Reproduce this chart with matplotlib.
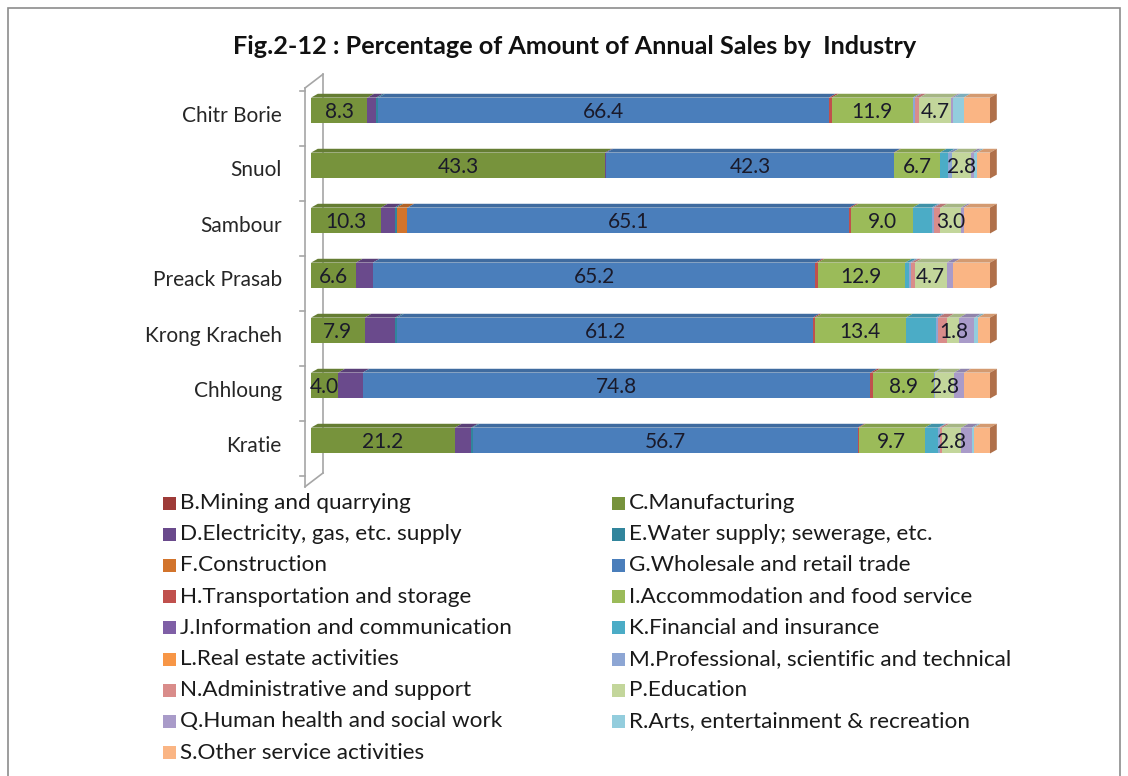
import matplotlib
matplotlib.use("Agg")
import matplotlib.pyplot as plt
from matplotlib.patches import Polygon, Rectangle
from matplotlib.colors import to_rgb
import numpy as np

plt.rcParams['font.family'] = ['Lato', 'DejaVu Sans']

regions = ["Chitr Borie", "Snuol", "Sambour", "Preack Prasab", "Krong Kracheh", "Chhloung", "Kratie"]

series_names = [
    "B.Mining and quarrying", "C.Manufacturing",
    "D.Electricity, gas, etc. supply", "E.Water supply; sewerage, etc.",
    "F.Construction", "G.Wholesale and retail trade",
    "H.Transportation and storage", "I.Accommodation and food service",
    "J.Information and communication", "K.Financial and insurance",
    "L.Real estate activities", "M.Professional, scientific and technical",
    "N.Administrative and support", "P.Education",
    "Q.Human health and social work", "R.Arts, entertainment & recreation",
    "S.Other service activities",
]

B = [0.0, 0.0, 0.0, 0.0, 0.0, 0.0, 0.0]
C = [8.3, 43.3, 10.3, 6.6, 7.9, 4.0, 21.2]
D = [1.3, 0.2, 2.0, 2.5, 4.5, 3.6, 2.4]
E = [0.3, 0.0, 0.3, 0.0, 0.3, 0.0, 0.2]
F = [0.0, 0.0, 1.6, 0.0, 0.0, 0.0, 0.0]
G = [66.4, 42.3, 65.1, 65.2, 61.2, 74.8, 56.7]
H = [0.4, 0.1, 0.3, 0.3, 0.3, 0.4, 0.2]
I = [11.9, 6.7, 9.0, 12.9, 13.4, 8.9, 9.7]
J = [0.0, 0.0, 0.0, 0.0, 0.0, 0.0, 0.0]
K = [0.0, 1.2, 2.8, 0.6, 4.4, 0.0, 2.0]
L = [0.0, 0.0, 0.0, 0.0, 0.0, 0.0, 0.0]
M = [0.3, 0.6, 0.3, 0.3, 0.3, 0.2, 0.2]
N = [0.7, 0.0, 1.0, 0.5, 1.4, 0.0, 0.4]
P = [4.7, 2.8, 3.0, 4.7, 1.8, 2.8, 2.8]
Q = [0.3, 0.5, 0.4, 1.0, 2.2, 1.5, 1.5]
R = [1.5, 0.4, 0.0, 0.0, 0.5, 0.0, 0.3]
S = [3.9, 1.9, 3.9, 5.4, 1.8, 3.8, 2.4]

series_values = [B, C, D, E, F, G, H, I, J, K, L, M, N, P, Q, R, S]
series_colors = [
    "#9E3B38", "#77933C", "#6A4A8C", "#31859C", "#D2742C", "#4A7EBB",
    "#C0504D", "#9BBB59", "#7F5FA6", "#4BACC6", "#F79646", "#8DA6D4",
    "#D98C8A", "#C3D69B", "#A99BC9", "#93CDDD", "#FAB584",
]
labeled = {"C.Manufacturing", "G.Wholesale and retail trade",
           "I.Accommodation and food service", "P.Education"}

fig = plt.figure(figsize=(11.28, 7.76), dpi=100)
W, Hh = 1128, 776

# outer border
fig.patches.append(Rectangle((8 / W, -0.05), (1120 - 8) / W, (776 - 8) / Hh + 0.05,
                             transform=fig.transFigure, fill=False,
                             edgecolor="#8c8c8c", linewidth=1.2))

fig.text(575 / W, 1 - 47 / Hh, "Fig.2-12 : Percentage of Amount of Annual Sales by  Industry",
         ha="center", va="center", fontsize=18.2, fontweight="bold", color="#111111")

ax_left, ax_right = 311 / W, 990 / W
ax_top, ax_bot = 1 - 88 / Hh, 1 - 473 / Hh
ax = fig.add_axes([ax_left, ax_bot, ax_right - ax_left, ax_top - ax_bot])
ax.set_xlim(0, 100)
ax.set_ylim(len(regions) - 0.5, -0.5)
ax.axis("off")

bar_h = 0.47
shift = -0.09
dx, dy = 1.0, 0.07


def darker(c, f=0.8):
    r, g, b = to_rgb(c)
    return (r * f, g * f, b * f)


ypos = np.arange(len(regions)) + shift
left = np.zeros(len(regions))
for name, vals, col in zip(series_names, series_values, series_colors):
    vals = np.array(vals)
    ax.barh(ypos, vals, left=left, height=bar_h, color=col, edgecolor="none", zorder=2)
    for i, (l0, v) in enumerate(zip(left, vals)):
        if v <= 0:
            continue
        top = ypos[i] - bar_h / 2
        poly = Polygon([(l0, top), (l0 + v, top), (l0 + v + dx, top - dy), (l0 + dx, top - dy)],
                       closed=True, facecolor=darker(col, 0.85), edgecolor="none",
                       zorder=1, clip_on=False)
        ax.add_patch(poly)
        if name in labeled:
            ax.text(l0 + v / 2, ypos[i] + 0.03, f"{v:.1f}", ha="center", va="center",
                    fontsize=15, color="#1a1a2a", zorder=5)
    left = left + vals

# right side faces
for i, tot in enumerate(left):
    top = ypos[i] - bar_h / 2
    bot = ypos[i] + bar_h / 2
    ax.add_patch(Polygon([(tot, top), (tot + dx, top - dy), (tot + dx, bot - dy), (tot, bot)],
                         closed=True, facecolor="#B0704A", edgecolor="none",
                         zorder=3, clip_on=False))

# 3D wall on the left
wall_col = "#a6a6a6"
x0_px = -6 / 6.79
x1_px = 12 / 6.79
ax.plot([x0_px, x0_px], [-0.5, 6.5 + 0.25], color=wall_col, lw=1.2, clip_on=False, zorder=0)
ax.plot([x1_px, x1_px], [-0.5 - 0.25, 6.5], color=wall_col, lw=1.2, clip_on=False, zorder=0)
ax.plot([x0_px, x1_px], [-0.5, -0.75], color=wall_col, lw=1.2, clip_on=False, zorder=0)
ax.plot([x0_px, x1_px], [6.75, 6.5], color=wall_col, lw=1.2, clip_on=False, zorder=0)
for b in np.arange(-0.5, len(regions) + 0.5, 1.0):
    ax.plot([x0_px - 0.8, x0_px], [b + 0.05, b + 0.05], color=wall_col, lw=1.2,
            clip_on=False, zorder=0)

for i, r in enumerate(regions):
    ax.text(-4.3, i, r, ha="right", va="center", fontsize=15, color="#262626")

# legend (row-wise, two columns)
col_x = [163, 612]
row_y0, row_dy = 503, 31.2
for k, (name, col) in enumerate(zip(series_names, series_colors)):
    r, c = divmod(k, 2)
    x = col_x[c]
    y = row_y0 + r * row_dy
    fig.patches.append(Rectangle((x / W, 1 - (y + 6.5) / Hh), 13 / W, 13 / Hh,
                                 transform=fig.transFigure, facecolor=col, edgecolor="none"))
    fig.text((x + 17) / W, 1 - y / Hh, name, ha="left", va="center",
             fontsize=16.2, color="#1a1a1a")

fig.savefig("out.png", dpi=100)
